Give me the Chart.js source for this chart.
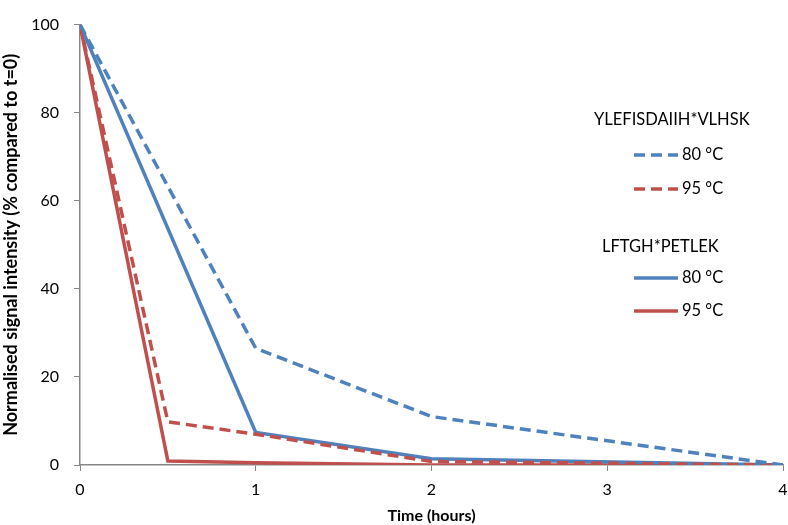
<!DOCTYPE html>
<html><head><meta charset="utf-8">
<script src="https://cdn.jsdelivr.net/npm/chart.js@4"></script>
<style>html,body{margin:0;padding:0;background:#fff}#wrap{width:788px;height:525px}</style>
</head><body><div id="wrap"><canvas id="c" width="788" height="525"></canvas></div>
<script>
const timesH = [0, 0.5, 1, 2, 4];
const pepA = "YLEFISDAIIH*VLHSK";
const pepB = "LFTGH*PETLEK";
const pepA_80 = [100, null, 26.5, 11, 0];
const pepA_95 = [100, 9.8, 7, 0.8, 0];
const pepB_80 = [100, null, 7.4, 1.4, 0];
const pepB_95 = [100, 0.9, 0.5, 0, 0];
const yTicks = [0, 20, 40, 60, 80, 100];
const xTicks = [0, 1, 2, 3, 4];
const BLUE = "#4F81BD", RED = "#C0504D", AXIS = "#868686";
const FONT = "Lato, 'Open Sans', sans-serif";

function pts(vals){ return timesH.map((t,i)=>({x:t,y:vals[i]})); }
const DASH = [11, 6];
const datasets = [
  {label:"80 °C", group:pepA, data:pts(pepA_80), borderColor:BLUE, borderDash:DASH},
  {label:"95 °C", group:pepA, data:pts(pepA_95), borderColor:RED, borderDash:DASH},
  {label:"80 °C", group:pepB, data:pts(pepB_80), borderColor:BLUE, borderDash:[]},
  {label:"95 °C", group:pepB, data:pts(pepB_95), borderColor:RED, borderDash:[]}
].map(d=>Object.assign(d,{borderWidth:3.5, pointRadius:0, fill:false, tension:0, spanGaps:true, borderCapStyle:'butt'}));

const legendPlugin = {
  id:'customLegend',
  afterDraw(chart){
    const ctx = chart.ctx;
    ctx.save();
    ctx.font = "16.5px " + FONT;
    ctx.fillStyle = "#000";
    ctx.textBaseline = "middle";
    const rows = [
      {type:'title', text:pepA, y:120},
      {type:'item', ds:0, y:155},
      {type:'item', ds:1, y:189},
      {type:'title', text:pepB, y:247},
      {type:'item', ds:2, y:278},
      {type:'item', ds:3, y:311}
    ];
    rows.forEach(r=>{
      if(r.type==='title'){
        ctx.textAlign = "left";
        ctx.fillText(r.text, r.text===pepA?594:602, r.y);
      } else {
        const d = chart.data.datasets[r.ds];
        ctx.strokeStyle = d.borderColor;
        ctx.lineWidth = 3.5;
        ctx.setLineDash(d.borderDash);
        ctx.beginPath(); ctx.moveTo(634, r.y); ctx.lineTo(678, r.y); ctx.stroke();
        ctx.setLineDash([]);
        ctx.textAlign = "left";
        ctx.fillText(d.label, 682, r.y);
      }
    });
    ctx.restore();
  }
};

new Chart(document.getElementById('c'), {
  type:'line',
  data:{datasets},
  options:{
    responsive:false, animation:false,
    layout:{padding:{top:24, right:0, left:0, bottom:0}},
    plugins:{legend:{display:false}, tooltip:{enabled:false}},
    scales:{
      x:{type:'linear', min:0, max:4,
        afterBuildTicks(s){ s.ticks = xTicks.map(v=>({value:v})); },
        afterFit(s){ s.height = 60; s.paddingRight = 5; },
        grid:{drawOnChartArea:false, drawTicks:true, tickLength:6, color:AXIS, lineWidth:1},
        border:{color:AXIS, width:1.5},
        ticks:{color:"#000", font:{family:FONT, size:16}, padding:9, maxRotation:0},
        title:{display:true, text:"Time (hours)", color:"#000", font:{family:FONT, size:16, weight:'bold'}, padding:{top:9,bottom:0}}
      },
      y:{type:'linear', min:0, max:100,
        afterBuildTicks(s){ s.ticks = yTicks.map(v=>({value:v})); },
        afterFit(s){ s.width = 80; },
        grid:{drawOnChartArea:false, drawTicks:true, tickLength:6, color:AXIS, lineWidth:1},
        border:{color:AXIS, width:1.5},
        ticks:{color:"#000", font:{family:FONT, size:16}, padding:15},
        title:{display:true, text:"Normalised signal intensity (% compared to t=0)", color:"#000", font:{family:FONT, size:18, weight:'bold'}, padding:{top:0,bottom:4}}
      }
    }
  },
  plugins:[legendPlugin]
});
</script></body></html>
